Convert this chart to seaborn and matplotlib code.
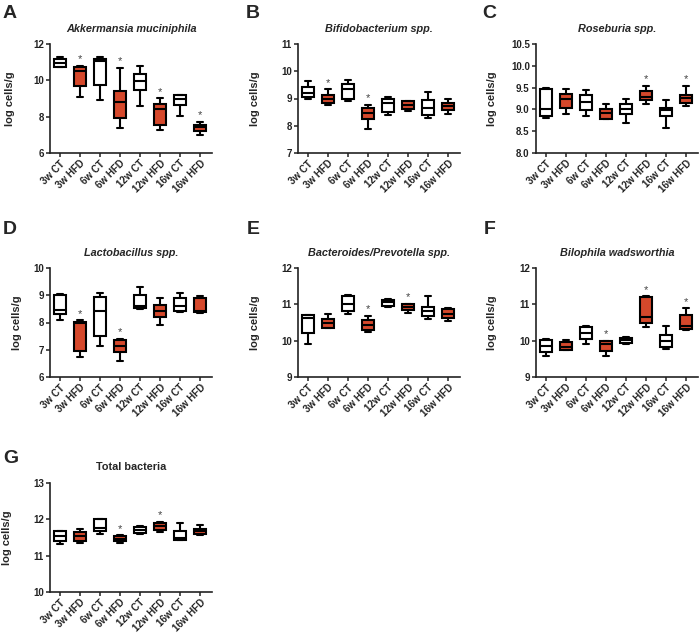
import numpy as np
import pandas as pd
import matplotlib
matplotlib.use("Agg")
import matplotlib.pyplot as plt
import seaborn as sns

# ---------------- data ----------------
groups = ["3w CT", "3w HFD", "6w CT", "6w HFD", "12w CT", "12w HFD", "16w CT", "16w HFD"]
diets = ["CT", "HFD", "CT", "HFD", "CT", "HFD", "CT", "HFD"]

# five-number summaries per group: [min, q1, median, q3, max]
akkermansia = [
    [10.71, 10.75, 10.97, 11.15, 11.26],
    [9.09, 9.68, 10.53, 10.71, 10.80],
    [8.94, 9.75, 11.08, 11.20, 11.26],
    [7.40, 7.90, 8.78, 9.42, 10.69],
    [8.61, 9.46, 9.98, 10.36, 10.79],
    [7.29, 7.53, 8.43, 8.72, 9.02],
    [8.02, 8.63, 8.98, 9.22, 9.22],
    [7.01, 7.20, 7.44, 7.56, 7.71],
]
bifido = [
    [8.99, 9.07, 9.22, 9.44, 9.65],
    [8.77, 8.82, 8.99, 9.14, 9.34],
    [8.90, 8.97, 9.36, 9.54, 9.67],
    [7.89, 8.23, 8.45, 8.65, 8.77],
    [8.38, 8.50, 8.85, 8.99, 9.07],
    [8.53, 8.60, 8.75, 8.90, 8.92],
    [8.29, 8.40, 8.65, 8.94, 9.25],
    [8.44, 8.58, 8.72, 8.85, 8.99],
]
roseburia = [
    [8.81, 8.86, 9.01, 9.46, 9.49],
    [8.90, 9.03, 9.23, 9.35, 9.46],
    [8.84, 8.98, 9.17, 9.33, 9.44],
    [8.78, 8.79, 8.92, 9.02, 9.13],
    [8.69, 8.89, 9.01, 9.12, 9.24],
    [9.13, 9.21, 9.29, 9.43, 9.54],
    [8.58, 8.84, 8.98, 9.04, 9.21],
    [9.07, 9.15, 9.26, 9.33, 9.54],
]
lactobacillus = [
    [8.11, 8.32, 8.46, 9.00, 9.05],
    [6.73, 6.97, 7.98, 8.03, 8.09],
    [7.14, 7.51, 8.43, 8.93, 9.10],
    [6.57, 6.90, 7.14, 7.37, 7.40],
    [8.49, 8.52, 8.60, 9.00, 9.29],
    [7.92, 8.20, 8.41, 8.65, 8.89],
    [8.37, 8.41, 8.60, 8.89, 9.08],
    [8.34, 8.37, 8.41, 8.91, 8.98],
]
bacteroides = [
    [9.90, 10.21, 10.62, 10.70, 10.71],
    [10.34, 10.36, 10.49, 10.60, 10.74],
    [10.73, 10.81, 11.00, 11.24, 11.25],
    [10.25, 10.28, 10.42, 10.58, 10.68],
    [10.94, 10.96, 11.07, 11.11, 11.16],
    [10.75, 10.84, 10.92, 11.00, 11.02],
    [10.60, 10.68, 10.81, 10.94, 11.22],
    [10.53, 10.62, 10.74, 10.88, 10.90],
]
bilophila = [
    [9.57, 9.70, 9.85, 10.02, 10.04],
    [9.74, 9.75, 9.83, 9.96, 10.02],
    [9.90, 10.04, 10.22, 10.37, 10.41],
    [9.57, 9.71, 9.90, 9.98, 10.00],
    [9.91, 9.93, 10.02, 10.07, 10.11],
    [10.38, 10.50, 10.64, 11.19, 11.22],
    [9.78, 9.83, 10.00, 10.15, 10.39],
    [10.28, 10.31, 10.39, 10.70, 10.89],
]
total = [
    [11.31, 11.41, 11.53, 11.67, 11.69],
    [11.35, 11.41, 11.53, 11.65, 11.74],
    [11.59, 11.67, 11.76, 12.00, 12.02],
    [11.35, 11.39, 11.46, 11.53, 11.56],
    [11.61, 11.62, 11.71, 11.79, 11.81],
    [11.65, 11.70, 11.81, 11.91, 11.94],
    [11.43, 11.43, 11.48, 11.67, 11.91],
    [11.56, 11.59, 11.69, 11.74, 11.85],
]

# significance flags (asterisks)
sig_akkermansia = [0, 1, 0, 1, 0, 1, 0, 1]
sig_bifido = [0, 1, 0, 1, 0, 0, 0, 0]
sig_roseburia = [0, 0, 0, 0, 0, 1, 0, 1]
sig_lactobacillus = [0, 1, 0, 1, 0, 0, 0, 0]
sig_bacteroides = [0, 0, 0, 1, 0, 1, 0, 0]
sig_bilophila = [0, 0, 0, 1, 0, 1, 0, 1]
sig_total = [0, 0, 0, 1, 0, 1, 0, 0]

titles = ["Akkermansia muciniphila", "Bifidobacterium spp.", "Roseburia spp.",
          "Lactobacillus spp.", "Bacteroides/Prevotella spp.", "Bilophila wadsworthia",
          "Total bacteria"]
letters = ["A", "B", "C", "D", "E", "F", "G"]
yticks_list = [
    [6, 8, 10, 12],
    [7, 8, 9, 10, 11],
    [8.0, 8.5, 9.0, 9.5, 10.0, 10.5],
    [6, 7, 8, 9, 10],
    [9, 10, 11, 12],
    [9, 10, 11, 12],
    [10, 11, 12, 13],
]
panel_data = [akkermansia, bifido, roseburia, lactobacillus, bacteroides, bilophila, total]
panel_sig = [sig_akkermansia, sig_bifido, sig_roseburia, sig_lactobacillus,
             sig_bacteroides, sig_bilophila, sig_total]

# ---------------- style ----------------
sns.set_theme(style="ticks")
plt.rcParams["font.family"] = ["Liberation Sans", "DejaVu Sans"]
plt.rcParams["axes.linewidth"] = 1.2
plt.rcParams["axes.edgecolor"] = "#222222"

ORANGE = "#D5482B"
palette = {"CT": "white", "HFD": ORANGE}

W, H = 700, 635
fig = plt.figure(figsize=(W / 100, H / 100), dpi=100)

col_left = [50, 298, 536]
row_top = [44, 268, 483]
ax_w, ax_h = 162, 109
ylabel_off = [35, 38, 39, 28, 38, 39, 38]
letter_pos = [(3, 5), (246, 5), (482, 5), (3, 221), (247, 221), (484, 221), (3, 450)]

for k in range(7):
    r, c = divmod(k, 3)
    left, top = col_left[c], row_top[r]
    ax = fig.add_axes([left / W, 1 - (top + ax_h) / H, ax_w / W, ax_h / H])

    rows = []
    for g, d, five in zip(groups, diets, panel_data[k]):
        for v in five:
            rows.append({"group": g, "diet": d, "value": v})
    df = pd.DataFrame(rows)

    sns.boxplot(data=df, x="group", y="value", hue="diet", order=groups,
                hue_order=["CT", "HFD"], palette=palette, saturation=1,
                dodge=False, whis=(0, 100), width=0.62, linecolor="black",
                linewidth=1.5, legend=False, ax=ax)

    yt = yticks_list[k]
    ax.set_ylim(yt[0], yt[-1])
    ax.set_yticks(yt)
    if k == 2:
        ax.set_yticklabels([f"{t:.1f}" for t in yt])
    ax.set_xlim(-0.5, 7.6)
    ax.set_xticks(range(len(groups)))
    ax.set_xticklabels(groups, rotation=45, ha="right", rotation_mode="anchor",
                       fontsize=7, fontweight="bold")
    for lab in ax.get_yticklabels():
        lab.set_fontsize(7)
        lab.set_fontweight("bold")
    ax.tick_params(axis="both", length=3, width=1.1, pad=1.5, colors="#222222")
    ax.tick_params(axis="x", pad=1)
    ax.set_xlabel("")
    ax.set_ylabel("log cells/g", fontsize=8, fontweight="bold")
    ax.yaxis.set_label_coords(-ylabel_off[k] / ax_w, 0.5)
    sns.despine(ax=ax)

    style = "normal" if k == 6 else "italic"
    ax.set_title(titles[k], fontsize=7.8, fontweight="bold", fontstyle=style, pad=9)

    for i, (five, s) in enumerate(zip(panel_data[k], panel_sig[k])):
        if s:
            ax.annotate("*", xy=(i, five[-1]), xytext=(0, 1), textcoords="offset points",
                        ha="center", va="bottom", fontsize=8, color="#444444")

    lx, ly = letter_pos[k]
    fig.text(lx / W, 1 - ly / H, letters[k], fontsize=14, fontweight="bold", va="top", ha="left")

fig.savefig("out.png", dpi=100)
